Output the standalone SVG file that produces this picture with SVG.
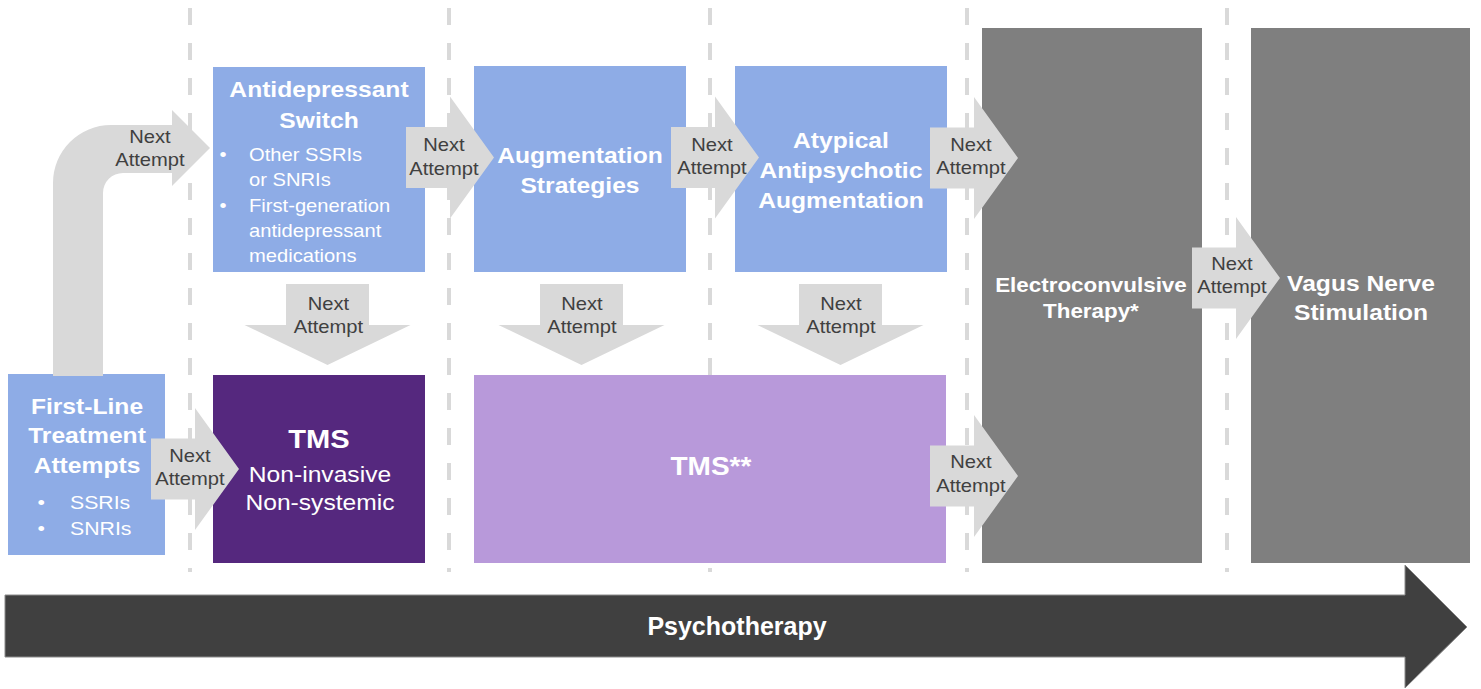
<svg xmlns="http://www.w3.org/2000/svg" xmlns:xlink="http://www.w3.org/1999/xlink" width="1481" height="689" viewBox="0 0 1481 689">
<style>
text { font-family: "Liberation Sans", Arial, sans-serif; }
.sx { transform-box: fill-box; transform-origin: center; transform: scaleX(1.12); }
.sxl { transform-box: fill-box; transform-origin: left center; transform: scaleX(1.12); }
.w { fill: #ffffff; }
.b { font-weight: bold; }
.c { text-anchor: middle; }
.h22 { font-size: 22px; }
.h18 { font-size: 18px; }
.na { font-size: 18px; fill: #404040; text-anchor: middle; }
.blue { fill: #8eace6; }
.gray { fill: #7f7f7f; }
.arr { fill: #d9d9d9; }
.dash { stroke: #d9d9d9; stroke-width: 4; stroke-dasharray: 17 18; fill: none; }
</style>
<defs>
<path id="ra" d="M0,-30.5 H44 V-61 L88,0 L44,61 V30.5 H0 Z"/>
<path id="da" d="M-41.5,0 H41.5 V41 H83 L0,81 L-83,41 H-41.5 Z"/>
</defs>
<rect width="1481" height="689" fill="#ffffff"/>
<g id="dividers">
<line class="dash" x1="190" y1="8" x2="190" y2="572"/>
<line class="dash" x1="449" y1="8" x2="449" y2="572"/>
<line class="dash" x1="710" y1="8" x2="710" y2="572"/>
<line class="dash" x1="967" y1="8" x2="967" y2="572"/>
<line class="dash" x1="1227" y1="8" x2="1227" y2="572"/>
</g>
<g id="psychotherapy">
<path d="M5,595 H1405 V565 L1467,627 L1405,688 V657 H5 Z" fill="#404040" stroke="#8a8a8a" stroke-width="1"/>
<text class="w b c" x="737" y="635" font-size="25">Psychotherapy</text>
</g>
<g id="first-line">
<rect class="blue" x="8" y="374" width="157" height="181"/>
<text class="w b c h22 sx" x="87" y="414">First-Line</text>
<text class="w b c h22 sx" x="87" y="443">Treatment</text>
<text class="w b c h22 sx" x="87" y="473">Attempts</text>
<text class="w sx" x="38" y="509" font-size="19">•</text>
<text class="w sxl" x="70" y="509" font-size="19">SSRIs</text>
<text class="w sx" x="38" y="535" font-size="19">•</text>
<text class="w sxl" x="70" y="535" font-size="19">SNRIs</text>
</g>
<g id="antidepressant-switch">
<rect class="blue" x="213" y="67" width="212" height="205"/>
<text class="w b c h22 sx" x="319" y="97">Antidepressant</text>
<text class="w b c h22 sx" x="319" y="128">Switch</text>
<text class="w h18 sx" x="220" y="161">•</text>
<text class="w h18 sxl" x="249" y="161">Other SSRIs</text>
<text class="w h18 sxl" x="249" y="186">or SNRIs</text>
<text class="w h18 sx" x="220" y="212">•</text>
<text class="w h18 sxl" x="249" y="212">First-generation</text>
<text class="w h18 sxl" x="249" y="237">antidepressant</text>
<text class="w h18 sxl" x="249" y="262">medications</text>
</g>
<g id="augmentation">
<rect class="blue" x="474" y="66" width="212" height="206"/>
<text class="w b c h22 sx" x="580" y="163">Augmentation</text>
<text class="w b c h22 sx" x="580" y="193">Strategies</text>
</g>
<g id="atypical">
<rect class="blue" x="735" y="66" width="212" height="206"/>
<text class="w b c h22 sx" x="841" y="148">Atypical</text>
<text class="w b c h22 sx" x="841" y="178">Antipsychotic</text>
<text class="w b c h22 sx" x="841" y="208">Augmentation</text>
</g>
<g id="tms">
<rect x="213" y="375" width="212" height="188" fill="#55287e"/>
<text class="w b c sx" x="319" y="448" font-size="26">TMS</text>
<text class="w c h22 sx" x="320" y="482">Non-invasive</text>
<text class="w c h22 sx" x="320" y="510">Non-systemic</text>
</g>
<g id="tms2">
<rect x="474" y="375" width="472" height="188" fill="#b899da"/>
<text class="w b c sx" x="711" y="475" font-size="25">TMS**</text>
</g>
<g id="ect">
<rect class="gray" x="982" y="28" width="220" height="535"/>
<text class="w b c sx" x="1091" y="292" font-size="20">Electroconvulsive</text>
<text class="w b c sx" x="1091" y="318" font-size="20">Therapy*</text>
</g>
<g id="vns">
<rect class="gray" x="1251" y="28" width="219" height="535"/>
<text class="w b c h22 sx" x="1361" y="291">Vagus Nerve</text>
<text class="w b c h22 sx" x="1361" y="320">Stimulation</text>
</g>
<g id="connectors">
<path class="arr" d="M53,376 V183 A58,58 0 0 1 111,125 H172 V110 L210,148 L172,186 V173 H123 A20,20 0 0 0 103,193 V376 Z"/>
<text class="na sx" x="150" y="143">Next</text>
<text class="na sx" x="150" y="166">Attempt</text>
<use class="arr" href="#ra" transform="translate(406,157.5)"/>
<text class="na sx" x="444" y="151">Next</text>
<text class="na sx" x="444" y="175">Attempt</text>
<use class="arr" href="#ra" transform="translate(671,157.5)"/>
<text class="na sx" x="712" y="151">Next</text>
<text class="na sx" x="712" y="174">Attempt</text>
<use class="arr" href="#ra" transform="translate(930,158)"/>
<text class="na sx" x="971" y="151">Next</text>
<text class="na sx" x="971" y="174">Attempt</text>
<use class="arr" href="#ra" transform="translate(1192,278)"/>
<text class="na sx" x="1232" y="270">Next</text>
<text class="na sx" x="1232" y="293">Attempt</text>
<use class="arr" href="#ra" transform="translate(151,469)"/>
<text class="na sx" x="190" y="462">Next</text>
<text class="na sx" x="190" y="485">Attempt</text>
<use class="arr" href="#ra" transform="translate(930,476)"/>
<text class="na sx" x="971" y="468">Next</text>
<text class="na sx" x="971" y="492">Attempt</text>
<use class="arr" href="#da" transform="translate(327.5,284)"/>
<text class="na sx" x="328.5" y="310">Next</text>
<text class="na sx" x="328.5" y="333">Attempt</text>
<use class="arr" href="#da" transform="translate(581.5,284)"/>
<text class="na sx" x="582" y="310">Next</text>
<text class="na sx" x="582" y="333">Attempt</text>
<use class="arr" href="#da" transform="translate(840.5,284)"/>
<text class="na sx" x="841" y="310">Next</text>
<text class="na sx" x="841" y="333">Attempt</text>
</g>
</svg>
